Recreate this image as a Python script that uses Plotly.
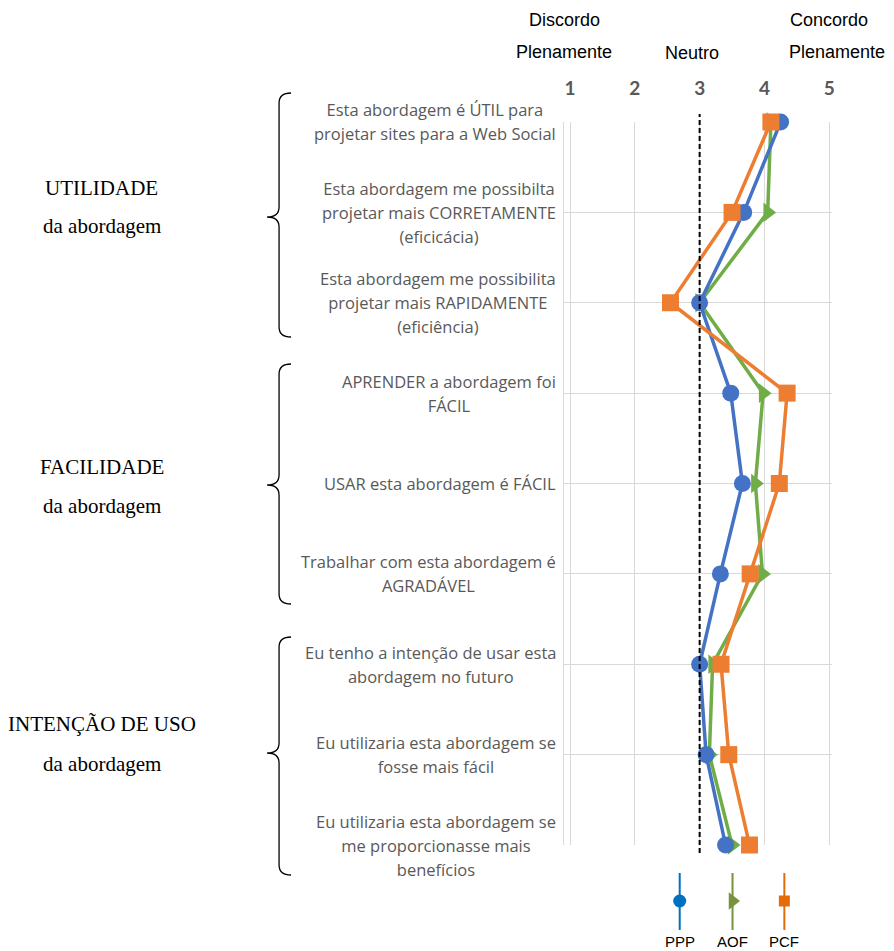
import plotly.graph_objects as go

# ---- data -------------------------------------------------------------
questions = [
    ["Esta abordagem é ÚTIL para", "projetar sites para a Web Social"],
    ["Esta abordagem me possibilta", "projetar mais CORRETAMENTE", "(eficicácia)"],
    ["Esta abordagem me possibilita", "projetar mais RAPIDAMENTE", "(eficiência)"],
    ["APRENDER a abordagem foi", "FÁCIL"],
    ["USAR esta abordagem é FÁCIL"],
    ["Trabalhar com esta abordagem é", "AGRADÁVEL"],
    ["Eu tenho a intenção de usar esta", "abordagem no futuro"],
    ["Eu utilizaria esta abordagem se", "fosse mais fácil"],
    ["Eu utilizaria esta abordagem se", "me proporcionasse mais", "benefícios"],
]
positions = list(range(1, len(questions) + 1))

ppp = [4.25, 3.68, 3.0, 3.48, 3.66, 3.32, 3.0, 3.1, 3.4]
aof = [4.1, 4.05, 3.0, 3.98, 3.86, 3.97, 3.2, 3.15, 3.5]
pcf = [4.1, 3.5, 2.55, 4.35, 4.23, 3.78, 3.33, 3.45, 3.77]

scale_ticks = [1, 2, 3, 4, 5]
neutral = 3

groups = [
    ("UTILIDADE", "da abordagem"),
    ("FACILIDADE", "da abordagem"),
    ("INTENÇÃO DE USO", "da abordagem"),
]
legend_names = ["PPP", "AOF", "PCF"]

# ---- page geometry (pixels) --------------------------------------------
W, H = 894, 951
PLOT_L, PLOT_R, PLOT_T, PLOT_B = 566, 835, 122, 845
X_AT_1, PX_PER_UNIT = 572, 65
KEY_L, KEY_R, KEY_T, KEY_B = 650, 815, 862, 951


def fx(px):
    return px / W


def fy(py):
    return 1 - py / H


x_lo = 1 - (X_AT_1 - PLOT_L) / PX_PER_UNIT
x_hi = 1 + (PLOT_R - X_AT_1) / PX_PER_UNIT

series_styles = [
    ("AOF", aof, "#70AD47", "triangle-right", 17),
    ("PPP", ppp, "#4472C4", "circle", 17),
    ("PCF", pcf, "#ED7D31", "square", 17),
]

fig = go.Figure()
for name, vals, color, symbol, size in series_styles:
    fig.add_trace(go.Scatter(
        x=vals, y=positions, name=name, mode="lines+markers",
        line=dict(color=color, width=3.5),
        marker=dict(symbol=symbol, size=size, color=color),
        cliponaxis=False, showlegend=False,
    ))

# ---- bottom key: stem + marker for each series (own small axes) -------
key_x = [682, 735, 787]
key_colors = ["#0070C0", "#77933C", "#E36C09"]
key_symbols = ["circle", "triangle-right", "square"]
key_sizes = [13, 15, 11]
for kx, name, color, symbol, size in zip(key_x, legend_names, key_colors,
                                         key_symbols, key_sizes):
    fig.add_trace(go.Scatter(
        x=[kx, kx], y=[873, 930], mode="lines", xaxis="x2", yaxis="y2",
        line=dict(color=color, width=2), showlegend=False, hoverinfo="skip",
        cliponaxis=False,
    ))
    fig.add_trace(go.Scatter(
        x=[kx], y=[901], mode="markers", xaxis="x2", yaxis="y2",
        marker=dict(symbol=symbol, size=size, color=color),
        showlegend=False, hoverinfo="skip", cliponaxis=False,
    ))
    fig.add_annotation(x=kx, y=941, xref="x2", yref="y2", text=name,
                       xanchor="center", yanchor="middle", showarrow=False,
                       font=dict(family="Liberation Sans", size=15,
                                 color="#000000"))

# ---- question labels: centred block, right edge next to the plot -----
for pos, lines in zip(positions, questions):
    text = "<br>".join(f"<span style='font-size:16.5px'>{ln}</span>"
                       for ln in lines)
    fig.add_annotation(
        x=fx(560), xref="paper", xanchor="right", y=pos, yref="y",
        yanchor="middle", text=text, showarrow=False, align="center",
        font=dict(family="Open Sans", size=18.5, color="#595959"),
    )

# ---- group labels and braces -----------------------------------------
braces = [(93, 217, 337), (364, 485, 604), (637, 753, 875)]
title_y = [188, 467, 724]
sub_y = [226, 506, 764]
serif = dict(family="Liberation Serif", size=21, color="#000000")
for (title, sub), (top, mid, bot), ty, sy in zip(groups, braces,
                                                title_y, sub_y):
    fig.add_annotation(x=fx(102), y=fy(ty), xref="paper", yref="paper",
                       xanchor="center", yanchor="middle", text=title,
                       showarrow=False, font=serif)
    fig.add_annotation(x=fx(102), y=fy(sy), xref="paper", yref="paper",
                       xanchor="center", yanchor="middle", text=sub,
                       showarrow=False, font=serif)
    xr, xs, xl, r = 292, 280, 268, 10
    path = (
        f"M {fx(xr)},{fy(top)} Q {fx(xs)},{fy(top)} {fx(xs)},{fy(top + r)} "
        f"L {fx(xs)},{fy(mid - r)} Q {fx(xs)},{fy(mid)} {fx(xl)},{fy(mid)} "
        f"Q {fx(xs)},{fy(mid)} {fx(xs)},{fy(mid + r)} "
        f"L {fx(xs)},{fy(bot - r)} Q {fx(xs)},{fy(bot)} {fx(xr)},{fy(bot)}"
    )
    fig.add_shape(type="path", path=path, xref="paper", yref="paper",
                  line=dict(color="#000000", width=1.3))

# ---- scale headings ---------------------------------------------------
head_font = dict(family="Liberation Sans", size=18, color="#000000")
for text, x, y in [("Discordo", 566, 20), ("Plenamente", 566, 52),
                   ("Neutro", 694, 53), ("Concordo", 832, 20),
                   ("Plenamente", 840, 52)]:
    fig.add_annotation(x=fx(x), y=fy(y), xref="paper", yref="paper",
                       xanchor="center", yanchor="middle",
                       text=text, showarrow=False, font=head_font)

# neutral reference line
fig.add_shape(type="line", x0=neutral, x1=neutral, xref="x",
              y0=fy(853), y1=fy(114), yref="paper",
              line=dict(color="#000000", width=2, dash="5px,3px"))

fig.update_layout(
    width=W, height=H,
    margin=dict(l=0, r=0, t=0, b=0),
    paper_bgcolor="#FFFFFF", plot_bgcolor="rgba(0,0,0,0)",
    xaxis=dict(
        domain=[fx(PLOT_L), fx(PLOT_R)], range=[x_lo, x_hi], side="top",
        tickvals=scale_ticks, ticktext=[str(t) for t in scale_ticks],
        tickfont=dict(family="Lato", size=19, color="#595959", weight="bold"),
        ticklabelstandoff=22, showgrid=True, gridcolor="#D9D9D9",
        gridwidth=1, zeroline=False, showline=False, ticks="",
    ),
    yaxis=dict(
        domain=[fy(PLOT_B), fy(PLOT_T)], range=[positions[-1], positions[0]],
        tickvals=positions, showticklabels=False, showgrid=True,
        gridcolor="#D9D9D9", gridwidth=1, zeroline=False,
        showline=True, linecolor="#D9D9D9", ticks="",
    ),
    xaxis2=dict(domain=[fx(KEY_L), fx(KEY_R)], range=[KEY_L, KEY_R],
                visible=False, anchor="y2"),
    yaxis2=dict(domain=[fy(KEY_B), fy(KEY_T)], range=[KEY_B, KEY_T],
                visible=False, anchor="x2"),
    showlegend=False,
)

fig.write_html("out.html")
